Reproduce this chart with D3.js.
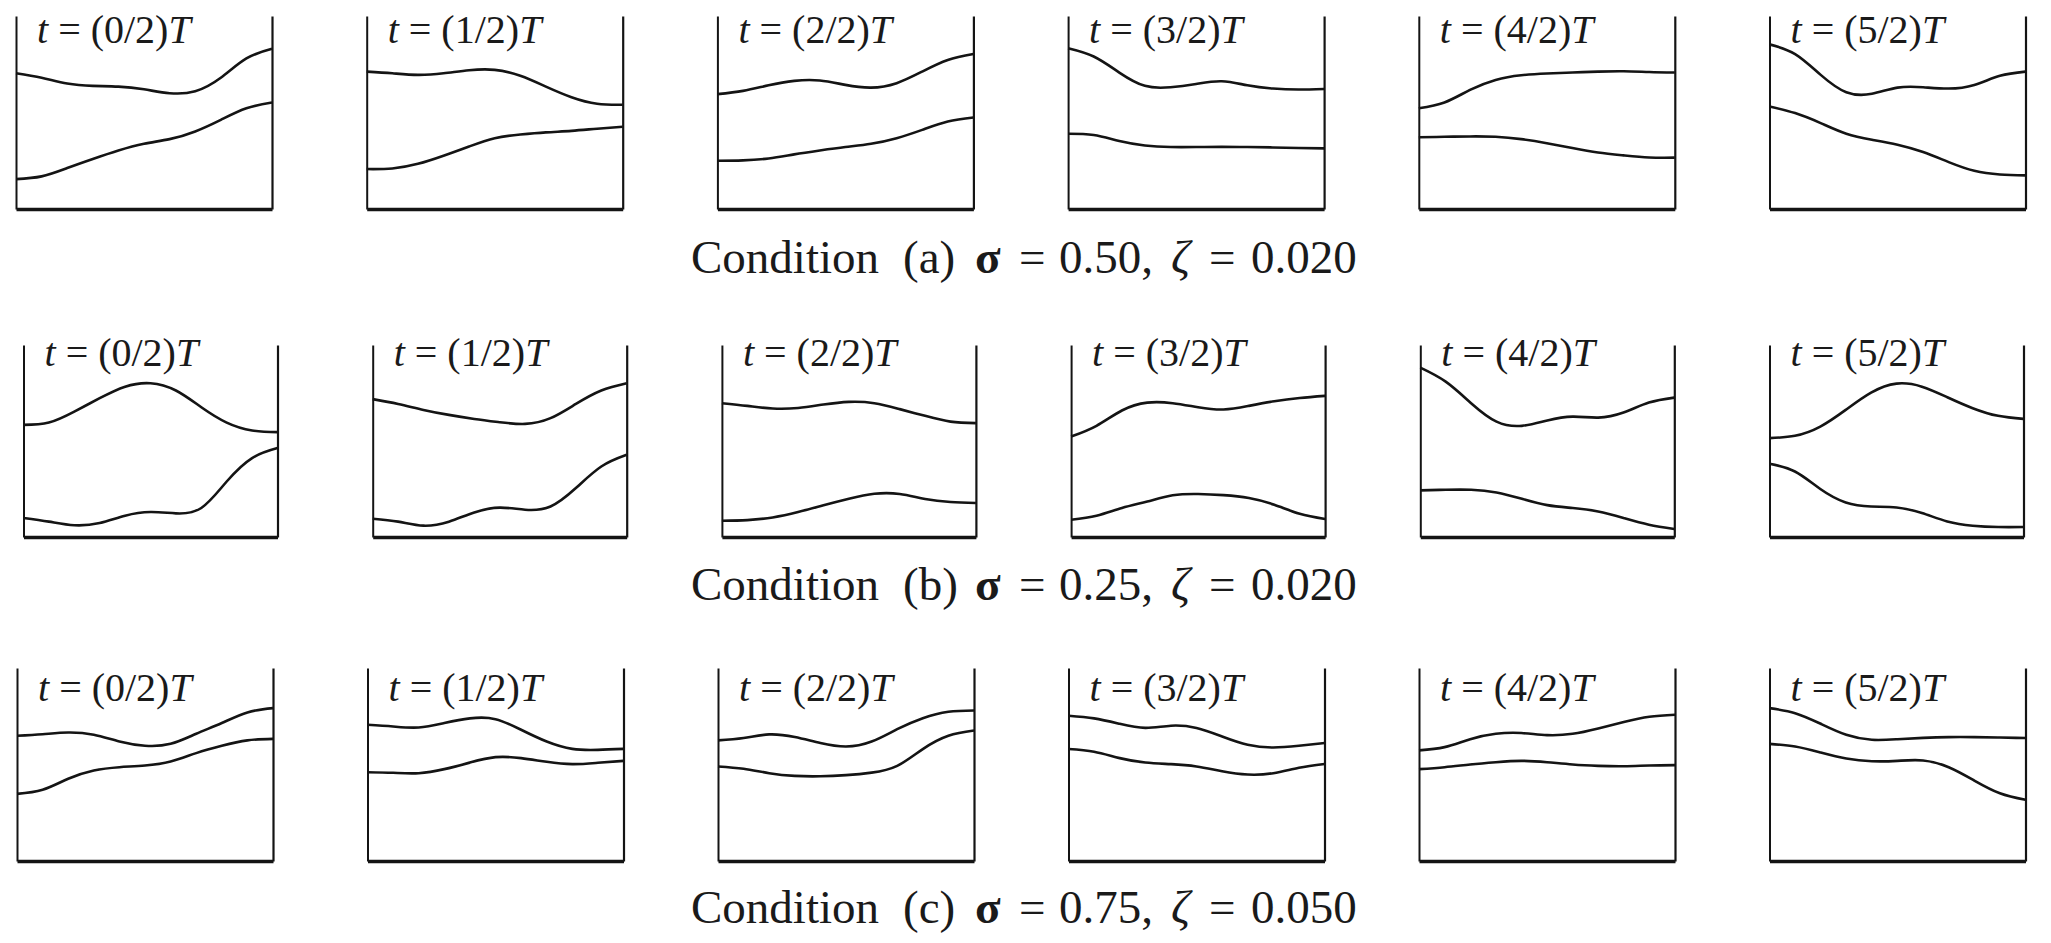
<!DOCTYPE html>
<html>
<head>
<meta charset="utf-8">
<script src="https://d3js.org/d3.v7.min.js"></script>
<style>
  body { margin: 0; background: #fff; }
  text { font-family: "Liberation Serif", "Times New Roman", serif; fill: #1a1a1a; }
</style>
</head>
<body>
<div id="chart"></div>
<script>
// ---- data: curve heights in % of panel height, sampled at xs ----
var xs = [0, 0.1, 0.2, 0.3, 0.4, 0.5, 0.6, 0.7, 0.8, 0.9, 1];
var phases = ["0/2", "1/2", "2/2", "3/2", "4/2", "5/2"];
var conditions = ["a", "b", "c"];
var sigmas = ["0.50", "0.25", "0.75"];
var zetas = ["0.020", "0.020", "0.050"];

var upperA = [
  [70.3, 68, 65, 63.8, 63.4, 62, 60, 61, 68, 78, 83],
  [71.2, 70.3, 69.5, 70.3, 71.9, 72.1, 69, 63.4, 57.9, 54.5, 54],
  [59.5, 61.2, 64.1, 66.4, 66.6, 64.3, 62.9, 65.2, 71.2, 77.2, 80.3],
  [83.3, 79, 70.7, 63.8, 63.1, 64.8, 66.2, 64.1, 62.4, 61.9, 62.2],
  [52.2, 55.2, 61.7, 66.9, 69.3, 70.2, 70.7, 71.2, 71.4, 71, 70.7],
  [85.3, 80.3, 69.5, 60.5, 59.7, 62.9, 63.1, 62.4, 64.3, 69, 71.2]
];
var lowerA = [
  [15.5, 16.9, 21.2, 25.9, 30.3, 33.8, 36.2, 40.2, 46.2, 52.2, 55.2],
  [20.7, 21, 23.4, 27.6, 32.4, 36.7, 38.6, 39.7, 40.5, 41.6, 42.6],
  [25, 25.2, 26.2, 28.3, 30.3, 32.1, 33.8, 36.7, 41, 45.3, 47.4],
  [39, 38.3, 35.2, 32.9, 32.1, 32.1, 32.2, 32.1, 31.9, 31.6, 31.4],
  [37.2, 37.4, 37.6, 37.4, 36.2, 34.1, 31.6, 29.3, 27.8, 26.7, 26.6],
  [53.1, 49.7, 44.5, 39, 35.9, 33.3, 29.5, 24.3, 19.8, 17.9, 17.4]
];
var upperB = [
  [58.4, 59.6, 65.3, 72.3, 78.3, 80.1, 76.3, 67.6, 59.6, 55.5, 54.6],
  [71.8, 69.3, 66.2, 63.6, 61.5, 59.8, 58.9, 61.9, 69.3, 76.3, 80.1],
  [69.7, 68.3, 66.9, 67.2, 69, 70.4, 69.7, 66.6, 63.1, 60.1, 59.3],
  [52.3, 57.9, 65.9, 70, 69.7, 67.6, 66.4, 68.3, 70.7, 72.4, 73.5],
  [88.2, 80.9, 69.7, 60.1, 57.9, 60.7, 62.7, 62.2, 64.8, 70, 72.6],
  [51.5, 52.7, 57.5, 66.2, 75.2, 79.9, 78.3, 72.8, 67.1, 63.1, 61.5]
];
var lowerB = [
  [9.9, 8, 6.1, 7.3, 11.1, 13, 12.3, 15.1, 28.9, 41.1, 46.3],
  [9.5, 8, 5.9, 8, 12.8, 15.3, 14.2, 15.9, 25.5, 36.7, 42.8],
  [8.5, 8.8, 10.2, 13, 16.5, 19.9, 22.5, 22.4, 19.8, 18.2, 17.7],
  [9, 11.1, 15.1, 18.5, 21.7, 22.4, 21.8, 20.3, 16.8, 12.1, 9.4],
  [24.3, 24.6, 24.6, 23.2, 19.9, 16.6, 15.1, 13.3, 9.9, 6.4, 4.2],
  [38.1, 34.1, 25, 18, 15.9, 15.4, 12.5, 8.1, 5.9, 5.2, 5.2]
];
var upperC = [
  [64.9, 65.7, 66.6, 65.4, 61.9, 59.7, 60.7, 65.9, 71.5, 77, 79.2],
  [70.6, 69.7, 69.2, 71.5, 73.9, 73.5, 68, 61.9, 58.1, 57.6, 58.1],
  [62.5, 63.7, 65.6, 64.2, 61.1, 59.3, 61.9, 68.3, 74, 77.3, 78],
  [75.3, 73.9, 71.1, 69, 70.1, 68.9, 64.5, 60.2, 58.8, 59.7, 61.1],
  [57.3, 59, 63.1, 65.9, 66.3, 65.2, 65.9, 68.7, 72, 74.7, 75.8],
  [79.2, 76.6, 71.1, 65.4, 62.8, 63.1, 63.8, 64.2, 64.2, 64, 63.7]
];
var lowerC = [
  [34.8, 36.9, 42.6, 46.9, 48.6, 49.5, 51.6, 55.9, 59.7, 62.5, 63.3],
  [46, 45.7, 45.5, 47.6, 51, 53.8, 53.3, 51.4, 50.2, 50.9, 51.9],
  [49, 47.8, 45.5, 44.1, 43.9, 44.5, 45.8, 49.3, 58, 64.9, 67.6],
  [58, 56.6, 53.3, 51, 50.2, 49, 46.5, 44.8, 45.5, 48.3, 50.3],
  [47.6, 48.6, 50, 51.2, 51.9, 51.2, 50, 49.3, 49.1, 49.5, 49.7],
  [60.7, 59.3, 56.2, 53.1, 51.7, 51.9, 52.1, 48.6, 41.7, 35.1, 31.7]
];
var uppers = [upperA, upperB, upperC];
var lowers = [lowerA, lowerB, lowerC];

// ---- layout ----
var W = 2051, H = 943;
var rowLayout = [
  {first: 16,   last: 1769.5, w: 256, top: 16,  bottom: 209, label: 43,  caption: 273},
  {first: 23.5, last: 1769.5, w: 254, top: 345, bottom: 537, label: 366, caption: 600},
  {first: 17,   last: 1769.5, w: 256, top: 668, bottom: 861, label: 701, caption: 923}
];
var ink = "#141414";

var svg = d3.select("#chart")
  .append("svg")
    .attr("width", W)
    .attr("height", H)
    .style("background", "#fff");

conditions.forEach(function(cond, r) {
  var L = rowLayout[r];
  var panelX = d3.scaleLinear().domain([0, phases.length - 1]).range([L.first, L.last]);

  phases.forEach(function(ph, i) {
    var left = panelX(i);
    var x = d3.scaleLinear().domain([0, 1]).range([left, left + L.w]);
    var y = d3.scaleLinear().domain([0, 100]).range([L.bottom, L.top]);
    var g = svg.append("g").attr("class", "panel");

    // frame: left, right, bottom (no ticks)
    g.append("g")
      .attr("transform", "translate(" + left + ",0)")
      .call(d3.axisLeft(y).ticks(0).tickSizeOuter(0))
      .select(".domain").attr("stroke", ink).attr("stroke-width", 2);
    g.append("g")
      .attr("transform", "translate(" + (left + L.w) + ",0)")
      .call(d3.axisRight(y).ticks(0).tickSizeOuter(0))
      .select(".domain").attr("stroke", ink).attr("stroke-width", 2.2);
    g.append("g")
      .attr("transform", "translate(0," + L.bottom + ")")
      .call(d3.axisBottom(x).ticks(0).tickSizeOuter(0))
      .select(".domain").attr("stroke", ink).attr("stroke-width", 3.4);

    var line = d3.line()
      .x(function(d, k) { return x(xs[k]); })
      .y(function(d) { return y(d); })
      .curve(d3.curveNatural);

    [uppers[r][i], lowers[r][i]].forEach(function(series) {
      g.append("path")
        .datum(series)
        .attr("fill", "none")
        .attr("stroke", ink)
        .attr("stroke-width", 2.6)
        .attr("stroke-linejoin", "round")
        .attr("d", line);
    });

    // label t = (n/2)T
    var lab = g.append("text")
      .attr("x", left + 21)
      .attr("y", L.label)
      .style("font-size", "40px");
    lab.append("tspan").style("font-style", "italic").text("t");
    lab.append("tspan").text(" = (" + ph + ")");
    lab.append("tspan").style("font-style", "italic").text("T");
  });

  // caption
  var cx = 691;
  var cap = svg.append("g").attr("class", "caption");
  var pieces = [
    {t: "Condition", dx: 0},
    {t: "(" + cond + ")", dx: 212},
    {t: "\u03C3", dx: 284, bold: true},
    {t: "=", dx: 328},
    {t: sigmas[r] + ",", dx: 368},
    {t: "\u03B6", dx: 480, italic: true},
    {t: "=", dx: 518},
    {t: zetas[r], dx: 560}
  ];
  pieces.forEach(function(p) {
    cap.append("text")
      .attr("x", cx + p.dx)
      .attr("y", L.caption)
      .style("font-size", "47px")
      .style("font-weight", p.bold ? "bold" : "normal")
      .style("font-style", p.italic ? "italic" : "normal")
      .text(p.t);
  });
});
</script>
</body>
</html>
